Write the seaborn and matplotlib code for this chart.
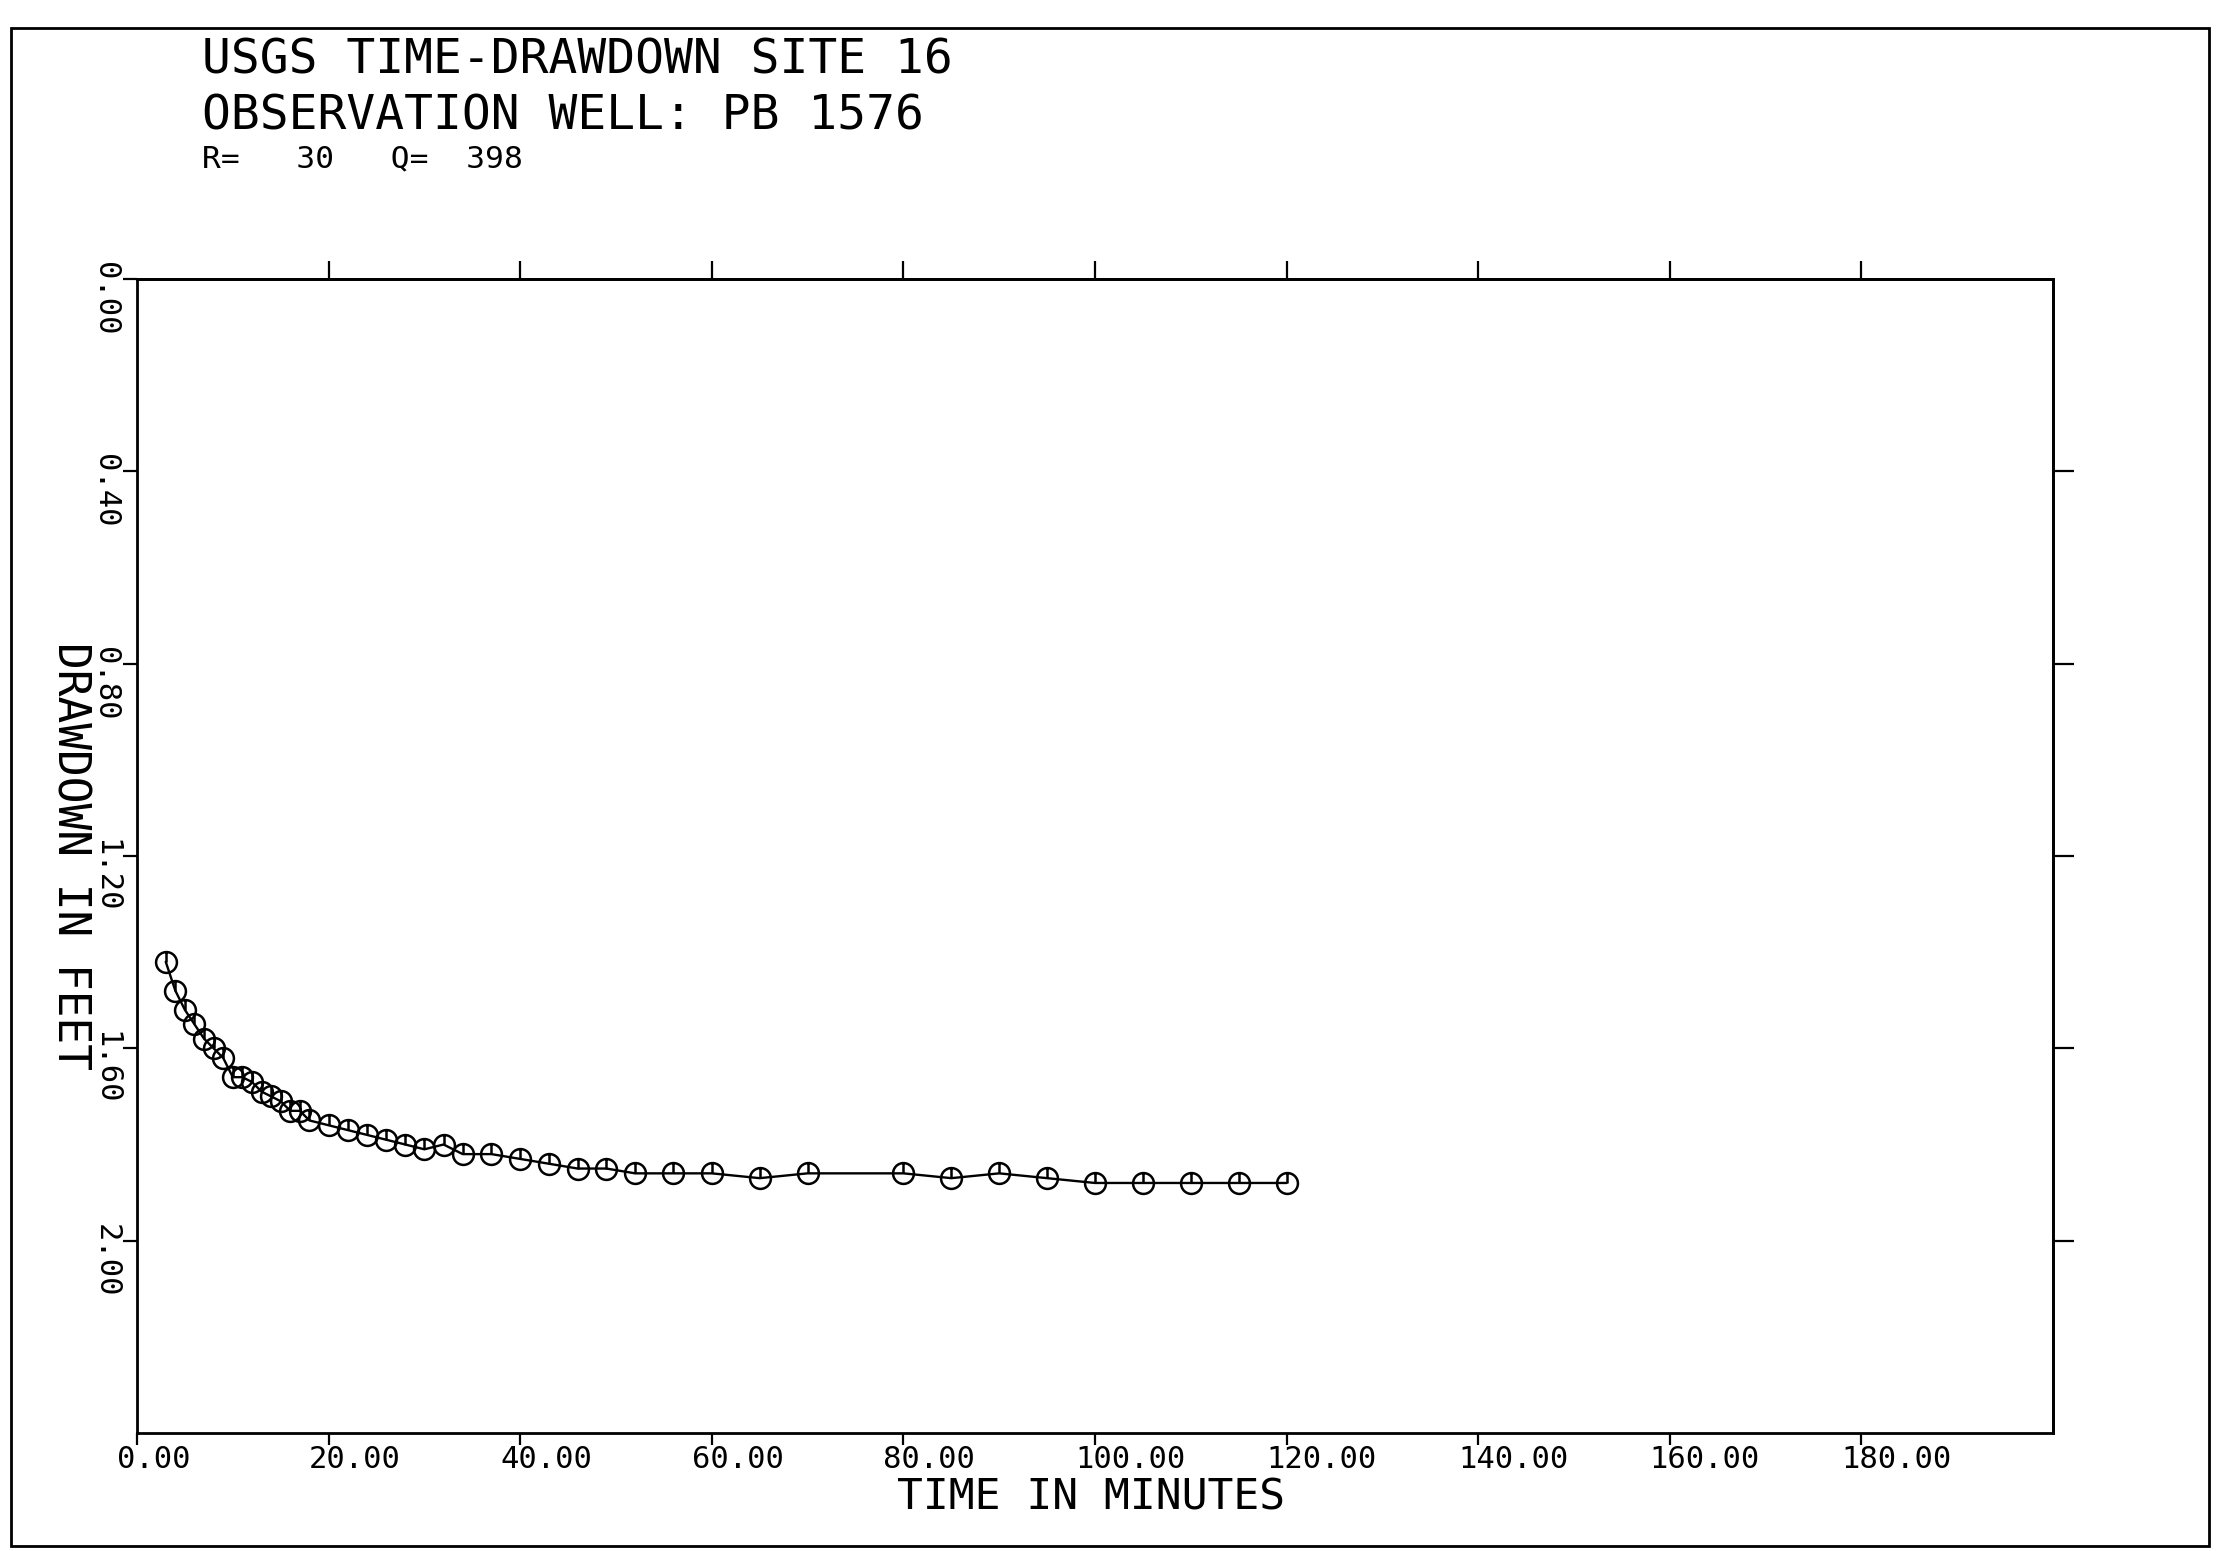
import matplotlib
matplotlib.use("Agg")
import matplotlib.pyplot as plt
from matplotlib.path import Path
from matplotlib.patches import Rectangle
from matplotlib.transforms import ScaledTranslation
import seaborn as sns
import pandas as pd

# Time-drawdown record, observation well PB 1576
time_min = [3, 4, 5, 6, 7, 8, 9, 10, 11, 12, 13, 14, 15, 16, 17, 18,
            20, 22, 24, 26, 28, 30, 32, 34, 37, 40, 43, 46, 49, 52,
            56, 60, 65, 70, 80, 85, 90, 95, 100, 105, 110, 115, 120]
drawdown_ft = [1.42, 1.48, 1.52, 1.55, 1.58, 1.60, 1.62, 1.66, 1.66, 1.67,
               1.69, 1.70, 1.71, 1.73, 1.73, 1.75, 1.76, 1.77, 1.78, 1.79,
               1.80, 1.81, 1.80, 1.82, 1.82, 1.83, 1.84, 1.85, 1.85, 1.86,
               1.86, 1.86, 1.87, 1.86, 1.86, 1.87, 1.86, 1.87, 1.88, 1.88,
               1.88, 1.88, 1.88]

x_ticks = [0, 20, 40, 60, 80, 100, 120, 140, 160, 180]
x_tick_labels = ["0.00", "20.00", "40.00", "60.00", "80.00", "100.00",
                 "120.00", "140.00", "160.00", "180.00"]
top_ticks = [20, 40, 60, 80, 100, 120, 140, 160, 180]
y_ticks = [0.0, 0.4, 0.8, 1.2, 1.6, 2.0]
y_tick_labels = ["0.00", "0.40", "0.80", "1.20", "1.60", "2.00"]
right_ticks = [0.4, 0.8, 1.2, 1.6, 2.0]

title_lines = ["USGS TIME-DRAWDOWN SITE 16",
               "OBSERVATION WELL: PB 1576"]
param_line = "R=   30   Q=  398"

df = pd.DataFrame({"time": time_min, "drawdown": drawdown_ft})

sns.set_style("ticks")
plt.rcParams["font.family"] = ["DejaVu Sans Mono", "DejaVu Sans"]
plt.rcParams["axes.edgecolor"] = "black"
plt.rcParams["xtick.color"] = "black"
plt.rcParams["ytick.color"] = "black"
plt.rcParams["text.color"] = "black"
plt.rcParams["axes.labelcolor"] = "black"

W, H = 2218, 1551
fig = plt.figure(figsize=(W / 100, H / 100), dpi=100)
fig.patch.set_facecolor("white")

ax_l, ax_r, ax_t, ax_b = 137, 2053, 279, 1433
ax = fig.add_axes([ax_l / W, 1 - ax_b / H, (ax_r - ax_l) / W, (ax_b - ax_t) / H])

# plotter symbol: open circle with a short vertical stroke
symbol = Path.make_compound_path(
    Path.unit_circle(),
    Path([(0, 1.0), (0, 0.0)], [Path.MOVETO, Path.LINETO]),
)

sns.lineplot(data=df, x="time", y="drawdown", ax=ax, color="black",
             linewidth=1.7, sort=False, errorbar=None,
             marker=symbol, markersize=15, markerfacecolor="none",
             markeredgecolor="black", markeredgewidth=1.8)

ax.set_xlim(0, 200)
ax.set_ylim(2.4, 0)

for s in ax.spines.values():
    s.set_visible(True)
    s.set_linewidth(2.0)
    s.set_color("black")

ax.set_xticks(x_ticks)
ax.set_xticklabels(x_tick_labels, ha="left")
ax.set_yticks(y_ticks)
ax.set_yticklabels(y_tick_labels, rotation=270, va="top", ha="right")
ax.tick_params(axis="x", bottom=True, top=False, direction="out",
               length=8.6, width=1.6, labelsize=22, pad=0)
ax.tick_params(axis="y", left=True, right=False, direction="out",
               length=10, width=1.6, labelsize=22, pad=2)

for lab in ax.get_xticklabels():
    lab.set_transform(lab.get_transform() + ScaledTranslation(-0.20, 0, fig.dpi_scale_trans))
for lab in ax.get_yticklabels():
    lab.set_transform(lab.get_transform() + ScaledTranslation(0, 0.17, fig.dpi_scale_trans))

sec_x = ax.secondary_xaxis("top")
sec_x.set_xticks(top_ticks)
sec_x.tick_params(direction="out", length=13, width=1.6, labeltop=False, labelbottom=False)
sec_x.spines["top"].set_linewidth(2.0)

sec_y = ax.secondary_yaxis("right")
sec_y.set_yticks(right_ticks)
sec_y.tick_params(direction="out", length=15, width=1.6, labelright=False, labelleft=False)
sec_y.spines["right"].set_linewidth(2.0)

ax.set_xlabel("TIME IN MINUTES", fontsize=31)
ax.xaxis.label.set_va("baseline")
ax.xaxis.set_label_coords((1091 - ax_l) / (ax_r - ax_l), -(1510 - ax_b) / (ax_b - ax_t))

ax.set_ylabel("DRAWDOWN IN FEET", fontsize=32)
ax.yaxis.label.set_rotation(270)
ax.yaxis.label.set_rotation_mode("default")
ax.yaxis.label.set_va("center")
ax.yaxis.label.set_ha("center")
ax.yaxis.set_label_coords(-(ax_l - 70) / (ax_r - ax_l), 0.5)

fig.text(202 / W, 1 - 73 / H, title_lines[0], fontsize=34.5, va="baseline", ha="left")
fig.text(202 / W, 1 - 130 / H, title_lines[1], fontsize=34.5, va="baseline", ha="left")
fig.text(202 / W, 1 - 167 / H, param_line, fontsize=22.5, va="baseline", ha="left")

# page frame
fig.add_artist(Rectangle((11 / W, 1 - 1546 / H), (2209 - 11) / W, (1546 - 28) / H,
                         transform=fig.transFigure, fill=False, lw=2.0,
                         edgecolor="black"))

fig.savefig("out.png", dpi=100, facecolor="white")
